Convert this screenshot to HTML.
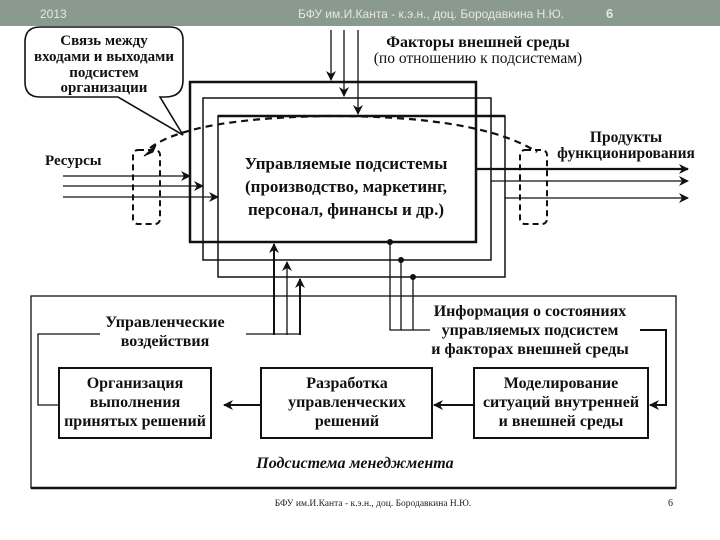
<!DOCTYPE html>
<html><head><meta charset="utf-8"><style>
html,body{margin:0;padding:0;background:#fff}
svg{display:block}
.b{font-family:"Liberation Serif",serif;font-weight:bold;font-size:15px;fill:#111}
</style></head><body>
<svg width="720" height="540" viewBox="0 0 720 540" xmlns="http://www.w3.org/2000/svg">
<defs>
<marker id="ah2" viewBox="0 0 10 10" refX="9" refY="5" markerWidth="10" markerHeight="10" orient="auto" markerUnits="userSpaceOnUse"><path d="M0,0 L10,5 L0,10 L3,5z" fill="#111"/></marker>
</defs>
<rect x="0" y="0" width="720" height="26" fill="#8b9a8e"/>
<text x="40" y="18" font-family="Liberation Sans,sans-serif" font-size="12" fill="#e4e8e4">2013</text>
<text x="298" y="18" font-family="Liberation Sans,sans-serif" font-size="12" fill="#e4e8e4">БФУ им.И.Канта - к.э.н., доц. Бородавкина Н.Ю.</text>
<text x="606" y="18" font-family="Liberation Sans,sans-serif" font-size="13" font-weight="bold" fill="#e4e8e4">6</text>

<g stroke="#111" fill="none">
<path d="M40,27 H170 Q183,27 183,40 V80 Q183,97 165,97 H160 L183,135 L118,97 H40 Q25,97 25,82 V42 Q25,27 40,27Z" stroke-width="1.6"/>
<rect x="190" y="82" width="286" height="160" stroke-width="2.5"/>
<rect x="203" y="98" width="288" height="162" stroke-width="1.5"/>
<rect x="218" y="116" width="287" height="161" stroke-width="1.5"/>
<line x1="218" y1="116" x2="505" y2="116" stroke-width="2.5"/>
<line x1="331" y1="30" x2="331" y2="80" stroke-width="1.3" marker-end="url(#ah2)"/>
<line x1="344" y1="30" x2="344" y2="96" stroke-width="1.3" marker-end="url(#ah2)"/>
<line x1="358" y1="30" x2="358" y2="114" stroke-width="1.3" marker-end="url(#ah2)"/>
<line x1="63" y1="176" x2="190" y2="176" stroke-width="1.3" marker-end="url(#ah2)"/>
<line x1="63" y1="186" x2="203" y2="186" stroke-width="1.3" marker-end="url(#ah2)"/>
<line x1="63" y1="197" x2="218" y2="197" stroke-width="1.3" marker-end="url(#ah2)"/>
<line x1="476" y1="169" x2="688" y2="169" stroke-width="2.2" marker-end="url(#ah2)"/>
<line x1="491" y1="181" x2="688" y2="181" stroke-width="1.3" marker-end="url(#ah2)"/>
<line x1="505" y1="198" x2="688" y2="198" stroke-width="1.3" marker-end="url(#ah2)"/>
<rect x="133" y="150" width="27" height="74" rx="5" stroke-width="2" stroke-dasharray="6,4"/>
<rect x="520" y="150" width="27" height="74" rx="5" stroke-width="2" stroke-dasharray="6,4"/>
<path d="M150,148 Q190,118 330,116 Q480,116 537,152" stroke-width="2.2" stroke-dasharray="7,5"/>
<path d="M144,156 L156,145 L153,152z" fill="#111" stroke-width="1"/>
<line x1="274" y1="335" x2="274" y2="244" stroke-width="2" marker-end="url(#ah2)"/>
<line x1="287" y1="335" x2="287" y2="262" stroke-width="1.3" marker-end="url(#ah2)"/>
<line x1="300" y1="335" x2="300" y2="279" stroke-width="2" marker-end="url(#ah2)"/>
<line x1="246" y1="334" x2="300" y2="334" stroke-width="1.3"/>
<polyline points="390,242 390,330 430,330" stroke-width="1.3"/>
<line x1="401" y1="260" x2="401" y2="330" stroke-width="1.3"/>
<line x1="413" y1="277" x2="413" y2="330" stroke-width="1.3"/>
<rect x="31" y="296" width="645" height="192" stroke-width="1.3"/>
<line x1="31" y1="488" x2="676" y2="488" stroke-width="2.5"/>
<rect x="59" y="368" width="152" height="70" stroke-width="2"/>
<rect x="261" y="368" width="171" height="70" stroke-width="2"/>
<rect x="474" y="368" width="174" height="70" stroke-width="2"/>
<line x1="261" y1="405" x2="224" y2="405" stroke-width="2" marker-end="url(#ah2)"/>
<line x1="474" y1="405" x2="434" y2="405" stroke-width="2" marker-end="url(#ah2)"/>
<polyline points="640,330 666,330 666,405 650,405" stroke-width="2" marker-end="url(#ah2)"/>
<polyline points="100,334 38,334 38,405 59,405" stroke-width="1.3"/>
</g>
<g fill="#111">
<circle cx="390" cy="242" r="3"/><circle cx="401" cy="260" r="3"/><circle cx="413" cy="277" r="3"/>
</g>

<g class="b" text-anchor="middle">
<text x="104" y="45">Связь между</text>
<text x="104" y="61">входами и выходами</text>
<text x="104" y="77">подсистем</text>
<text x="104" y="92">организации</text>
<text x="478" y="47" font-size="16">Факторы внешней среды</text>
<text x="478" y="63" font-size="15.5" font-weight="normal">(по отношению к подсистемам)</text>
<text x="346" y="169" font-size="17">Управляемые подсистемы</text>
<text x="346" y="192" font-size="17">(производство, маркетинг,</text>
<text x="346" y="215" font-size="17">персонал, финансы и др.)</text>
<text x="626" y="142" font-size="15.5">Продукты</text>
<text x="626" y="158" font-size="15.5">функционирования</text>
<text x="165" y="327" font-size="16">Управленческие</text>
<text x="165" y="346" font-size="16">воздействия</text>
<text x="530" y="316" font-size="16">Информация о состояниях</text>
<text x="530" y="335" font-size="16">управляемых подсистем</text>
<text x="530" y="354" font-size="16">и факторах внешней среды</text>
<text x="135" y="388" font-size="16">Организация</text>
<text x="135" y="407" font-size="16">выполнения</text>
<text x="135" y="426" font-size="16">принятых решений</text>
<text x="347" y="388" font-size="16">Разработка</text>
<text x="347" y="407" font-size="16">управленческих</text>
<text x="347" y="426" font-size="16">решений</text>
<text x="561" y="388" font-size="16">Моделирование</text>
<text x="561" y="407" font-size="16">ситуаций внутренней</text>
<text x="561" y="426" font-size="16">и внешней среды</text>
<text x="355" y="468" font-size="16" font-style="italic">Подсистема менеджмента</text>
</g>
<text x="45" y="165" class="b" font-size="16">Ресурсы</text>
<text x="373" y="506" text-anchor="middle" font-family="Liberation Serif,serif" font-size="9.5" fill="#222">БФУ им.И.Канта - к.э.н., доц. Бородавкина Н.Ю.</text>
<text x="668" y="506" font-family="Liberation Serif,serif" font-size="10" fill="#222">6</text>
</svg>
</body></html>
